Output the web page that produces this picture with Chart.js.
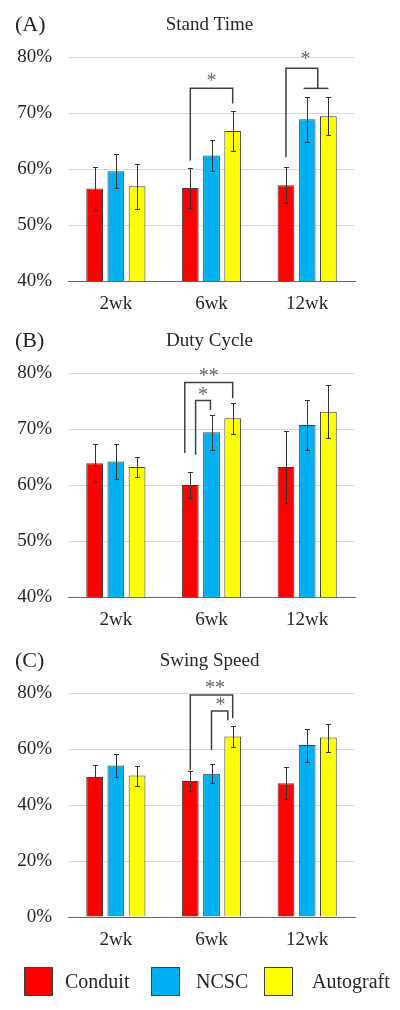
<!DOCTYPE html>
<html>
<head>
<meta charset="utf-8">
<script src="https://cdn.jsdelivr.net/npm/chart.js@4.4.1/dist/chart.umd.min.js"></script>
<style>
  html, body { margin: 0; padding: 0; background: #fff; }
  body { width: 400px; height: 1010px; position: relative; overflow: hidden; font-family: 'Liberation Serif', 'Times New Roman', serif; }
  .panel { position: absolute; left: 0; width: 400px; height: 320px; }
  .legend-box { position: absolute; top: 967px; width: 29px; height: 29px; box-sizing: border-box; border: 1px solid #404040; }
  .legend-text { position: absolute; top: 968px; font-size: 20px; line-height: 26px; color: #262626; }
</style>
</head>
<body>
<div class="panel" style="top:4px"><canvas id="chartA" width="400" height="320"></canvas></div>
<div class="panel" style="top:320px"><canvas id="chartB" width="400" height="320"></canvas></div>
<div class="panel" style="top:640px"><canvas id="chartC" width="400" height="320"></canvas></div>

<div class="legend-box" style="left:24px;background:#ff0000"></div>
<div class="legend-text" style="left:65px">Conduit</div>
<div class="legend-box" style="left:151px;background:#00b0f0"></div>
<div class="legend-text" style="left:196px">NCSC</div>
<div class="legend-box" style="left:264px;background:#ffff00"></div>
<div class="legend-text" style="left:312px">Autograft</div>

<script>
// ── données ──
const CATEGORIES = ['2wk', '6wk', '12wk'];
const SERIES = ['Conduit', 'NCSC', 'Autograft'];
const COLORS = ['#ff0000', '#00b0f0', '#ffff00'];

// (A) Stand Time (%)
const standConduit = [56.5, 56.6, 57.1];
const standConduitErr = [3.9, 3.6, 3.2];
const standNCSC = [59.6, 62.4, 68.9];
const standNCSCErr = [3.0, 2.7, 4.0];
const standAuto = [56.9, 66.8, 69.4];
const standAutoErr = [4.0, 3.5, 3.4];

// (B) Duty Cycle (%)
const dutyConduit = [63.9, 60.0, 63.2];
const dutyConduitErr = [3.4, 2.4, 6.5];
const dutyNCSC = [64.2, 69.4, 70.7];
const dutyNCSCErr = [3.1, 3.1, 4.5];
const dutyAuto = [63.2, 71.9, 73.1];
const dutyAutoErr = [1.8, 2.8, 4.7];

// (C) Swing Speed (%)
const swingConduit = [50.0, 48.6, 47.8];
const swingConduitErr = [4.4, 3.6, 5.8];
const swingNCSC = [54.1, 51.2, 61.4];
const swingNCSCErr = [4.2, 3.3, 5.9];
const swingAuto = [50.5, 64.5, 64.1];
const swingAutoErr = [3.6, 3.7, 5.0];

// Brackets de significativité : points [catégorie, série (fractionnaire), valeur]
const bracketsA = {
  paths: [
    [[1, 0, 61.5], [1, 0, 74.4], [1, 2, 74.4], [1, 2, 71.7]],
    [[2, 0, 62.1], [2, 0, 78.0], [2, 1.5, 78.0], [2, 1.5, 74.4]],
    [[2, 0.83, 74.4], [2, 2.19, 74.4]]
  ],
  labels: [[1, 1, 76.2, '*'], [2, 0.92, 80.2, '*']]
};
const bracketsB = {
  paths: [
    [[1, -0.26, 65.7], [1, -0.26, 78.3], [1, 2, 78.3], [1, 2, 75.5]],
    [[1, 0.25, 65.4], [1, 0.25, 75.1], [1, 0.95, 75.1], [1, 0.95, 73.4]]
  ],
  labels: [[1, 0.87, 80.0, '**'], [1, 0.6, 76.6, '*']]
};
const bracketsC = {
  paths: [
    [[1, 0, 52.4], [1, 0, 79.3], [1, 2.35, 79.3], [1, 2.35, 71.0]],
    [[1, 1, 59.6], [1, 1, 73.6], [1, 1.77, 73.6], [1, 1.77, 70.3]]
  ],
  labels: [[1, 1.16, 82.9, '**'], [1, 1.42, 76.9, '*']]
};

const FONT = "'Liberation Serif', 'Times New Roman', serif";
Chart.defaults.font.family = FONT;
Chart.defaults.font.size = 19;
Chart.defaults.color = '#262626';

// position x d'une série (interpolée) dans une catégorie
function barX(chart, cat, ds) {
  const lo = Math.max(0, Math.min(2, Math.floor(ds)));
  const hi = Math.min(2, lo + 1);
  const xLo = chart.getDatasetMeta(lo).data[cat].x;
  const xHi = chart.getDatasetMeta(hi).data[cat].x;
  return xLo + (xHi - xLo) * (ds - lo);
}

function overlayPlugin(letter, title, errs, brackets) {
  return {
    id: 'overlay',
    afterDatasetsDraw(chart) {
      const ctx = chart.ctx;
      const y = chart.scales.y;
      const area = chart.chartArea;
      ctx.save();
      // barres d'erreur
      ctx.strokeStyle = '#333';
      ctx.lineWidth = 1;
      errs.forEach((err, d) => {
        const meta = chart.getDatasetMeta(d);
        meta.data.forEach((bar, i) => {
          const v = chart.data.datasets[d].data[i];
          const top = Math.round(y.getPixelForValue(v + err[i])) + 0.5;
          const bot = Math.round(y.getPixelForValue(v - err[i])) + 0.5;
          const x = Math.round(bar.x) + 0.5;
          ctx.beginPath();
          ctx.moveTo(x, top); ctx.lineTo(x, bot);
          ctx.moveTo(x - 2.5, top); ctx.lineTo(x + 2.5, top);
          ctx.moveTo(x - 2.5, bot); ctx.lineTo(x + 2.5, bot);
          ctx.stroke();
        });
      });
      // brackets
      ctx.strokeStyle = '#404040';
      ctx.lineWidth = 1.5;
      brackets.paths.forEach(path => {
        ctx.beginPath();
        path.forEach(([c, s, v], k) => {
          const px = barX(chart, c, s), py = y.getPixelForValue(v);
          if (k === 0) ctx.moveTo(px, py); else ctx.lineTo(px, py);
        });
        ctx.stroke();
      });
      ctx.fillStyle = '#666';
      ctx.font = '20px ' + FONT;
      ctx.textAlign = 'center';
      ctx.textBaseline = 'alphabetic';
      brackets.labels.forEach(([c, s, v, t]) => {
        ctx.fillText(t, barX(chart, c, s), y.getPixelForValue(v) + 9);
      });
      // titre centré sur la zone de tracé
      ctx.fillStyle = '#262626';
      ctx.font = '19px ' + FONT;
      ctx.textBaseline = 'middle';
      ctx.fillText(title, (area.left + area.right) / 2 - 2, 21);
      // lettre du panneau
      ctx.font = '22px ' + FONT;
      ctx.textAlign = 'left';
      ctx.fillText(letter, 15, 21);
      ctx.restore();
    }
  };
}

function makePanel(id, title, letter, values, errs, yMin, yMax, step, brackets) {
  new Chart(document.getElementById(id), {
    type: 'bar',
    data: {
      labels: CATEGORIES,
      datasets: SERIES.map((s, i) => ({
        label: s,
        data: values[i],
        backgroundColor: COLORS[i],
        borderColor: '#404040',
        borderWidth: 1,
        categoryPercentage: 0.665,
        barPercentage: 0.79
      }))
    },
    options: {
      responsive: false,
      animation: false,
      layout: { padding: { left: 0, right: 45, top: 53, bottom: 0 } },
      plugins: {
        legend: { display: false },
        tooltip: { enabled: false },
        title: { display: false }
      },
      scales: {
        x: {
          grid: { display: false, drawTicks: false },
          border: { display: true, color: '#666', width: 1 },
          ticks: { padding: 12, color: '#262626' },
          afterFit(scale) { scale.height = 43; }
        },
        y: {
          min: yMin,
          max: yMax,
          ticks: { stepSize: step, padding: 16, color: '#262626', callback: v => v + '%' },
          grid: { color: '#d9d9d9', drawTicks: false },
          border: { display: false },
          afterFit(scale) { scale.width = 68; }
        }
      }
    },
    plugins: [overlayPlugin(letter, title, errs, brackets)]
  });
}

makePanel('chartA', 'Stand Time', '(A)',
  [standConduit, standNCSC, standAuto],
  [standConduitErr, standNCSCErr, standAutoErr], 40, 80, 10, bracketsA);
makePanel('chartB', 'Duty Cycle', '(B)',
  [dutyConduit, dutyNCSC, dutyAuto],
  [dutyConduitErr, dutyNCSCErr, dutyAutoErr], 40, 80, 10, bracketsB);
makePanel('chartC', 'Swing Speed', '(C)',
  [swingConduit, swingNCSC, swingAuto],
  [swingConduitErr, swingNCSCErr, swingAutoErr], 0, 80, 20, bracketsC);
</script>
</body>
</html>
